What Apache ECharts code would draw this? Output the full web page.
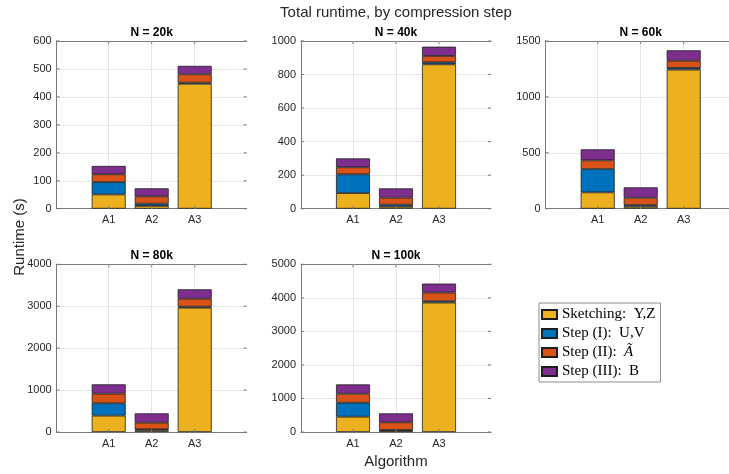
<!DOCTYPE html>
<html><head><meta charset="utf-8">
<script src="https://cdn.jsdelivr.net/npm/echarts@6/dist/echarts.min.js"></script>
<style>html,body{margin:0;padding:0;background:#fff}#c{width:729px;height:474px}</style>
</head><body><div id="c"></div>
<script>
// ---- data ----
const panelTitles = ['N = 20k', 'N = 40k', 'N = 60k', 'N = 80k', 'N = 100k'];
const categories = ['A1', 'A2', 'A3'];
const yMax = [600, 1000, 1500, 4000, 5000];
const yStep = [100, 200, 500, 1000, 1000];
const sketching = [[51, 10, 447], [93, 12, 861], [146, 18, 1244], [390, 40, 2966], [456, 40, 3859]];
const step1 = [[44, 8, 4], [112, 12, 12], [209, 15, 15], [294, 24, 24], [417, 20, 40]];
const step2 = [[28, 26, 30], [42, 42, 38], [78, 65, 65], [231, 159, 191], [268, 228, 258]];
const step3 = [[30, 29, 30], [53, 55, 55], [98, 93, 93], [222, 222, 223], [278, 268, 268]];
const seriesNames = ['Sketching:  Y,Z', 'Step (I):  U,V', 'Step (II):  Ã', 'Step (III):  B'];
const seriesData = [sketching, step1, step2, step3];

// ---- style / layout ----
const colors = ['#EDB120', '#0072BD', '#D95319', '#7E2F8E'];
const lefts = [56.7, 301, 545.7, 56.7, 301];
const tops = [41, 41, 41, 264.3, 264.3];
const W = 190, H = 167.7, band = 43, tickLen = 3;
const innerW = band * categories.length, innerOff = (W - innerW) / 2;
const axisCol = '#7a7a7a', gridCol = '#e6e6e6', textCol = '#262626';
const sans = 'Liberation Sans';

const chart = echarts.init(document.getElementById('c'), null, {renderer: 'canvas'});
const grid = [], xAxis = [], yAxis = [], series = [], graphic = [];
const axisRefs = [];

panelTitles.forEach((t, p) => {
  const gBox = grid.length;
  grid.push({left: lefts[p], top: tops[p], width: W, height: H});
  const gBar = grid.length;
  grid.push({left: lefts[p] + innerOff, top: tops[p], width: innerW, height: H});

  ['bottom', 'top'].forEach(pos => xAxis.push({
    type: 'value', gridIndex: gBox, min: 0, max: 1, position: pos,
    axisLine: {show: true, onZero: false, lineStyle: {color: axisCol, width: 1}},
    axisTick: {show: false}, axisLabel: {show: false}, splitLine: {show: false}
  }));
  const yLeft = yAxis.length;
  yAxis.push({
    type: 'value', gridIndex: gBox, min: 0, max: yMax[p], interval: yStep[p], position: 'left',
    axisLine: {show: true, lineStyle: {color: axisCol, width: 1}},
    axisTick: {show: false},
    axisLabel: {fontSize: 11, color: textCol, fontFamily: sans, margin: 5, formatter: v => String(v)},
    splitLine: {show: true, lineStyle: {color: gridCol, width: 1}}
  });
  yAxis.push({
    type: 'value', gridIndex: gBox, min: 0, max: yMax[p], interval: yStep[p], position: 'right',
    axisLine: {show: true, lineStyle: {color: axisCol, width: 1}},
    axisTick: {show: false}, axisLabel: {show: false}, splitLine: {show: false}
  });

  const xBar = xAxis.length;
  xAxis.push({
    type: 'category', gridIndex: gBar, data: categories, position: 'bottom',
    axisLine: {show: false}, axisTick: {show: false},
    axisLabel: {fontSize: 11, color: textCol, fontFamily: sans, margin: 6},
    splitLine: {show: false}
  });
  const yBar = yAxis.length;
  yAxis.push({
    type: 'value', gridIndex: gBar, min: 0, max: yMax[p], interval: yStep[p],
    show: false, splitLine: {show: false}
  });
  axisRefs.push({yLeft, xBar});

  seriesData.forEach((arr, s) => {
    const ser = {
      type: 'bar', name: seriesNames[s], xAxisIndex: xBar, yAxisIndex: yBar,
      stack: 'p' + p, barWidth: 34, z: 2,
      data: arr[p],
      itemStyle: {color: colors[s], borderColor: '#1e1e1e', borderWidth: 0.8},
      emphasis: {disabled: true}
    };
    if (s === 0) {
      ser.markLine = {
        silent: true, symbol: 'none', z: 1, label: {show: false},
        lineStyle: {color: gridCol, width: 1, type: 'solid'},
        data: categories.map(c => ({xAxis: c}))
      };
    }
    series.push(ser);
  });
  graphic.push({
    type: 'text', x: lefts[p] + W / 2, y: tops[p] - 8.5,
    style: {text: t, align: 'center', verticalAlign: 'middle', font: 'bold 12px "Liberation Sans"', fill: '#000'}
  });
});

graphic.push({type: 'text', x: 396, y: 13,
  style: {text: 'Total runtime, by compression step', align: 'center', verticalAlign: 'middle',
    font: '15px "Liberation Sans"', fill: textCol}});
graphic.push({type: 'text', x: 396, y: 462,
  style: {text: 'Algorithm', align: 'center', verticalAlign: 'middle',
    font: '15px "Liberation Sans"', fill: textCol}});
graphic.push({type: 'text', x: 20, y: 237, rotation: Math.PI / 2,
  style: {text: 'Runtime (s)', align: 'center', verticalAlign: 'middle',
    font: '15px "Liberation Sans"', fill: textCol}});

chart.setOption({
  animation: false,
  backgroundColor: '#fff',
  grid, xAxis, yAxis, series,
  legend: {
    data: seriesNames, orient: 'vertical', left: 539, top: 303,
    itemWidth: 15, itemHeight: 9, itemGap: 4, padding: [4, 5, 3, 2],
    borderColor: '#8c8c8c', borderWidth: 1, icon: 'rect', selectedMode: false,
    formatter: n => n.replace('Ã', '{i|Ã}'),
    textStyle: {fontFamily: 'Liberation Serif', fontSize: 15, color: '#000',
      rich: {i: {fontFamily: 'Liberation Serif', fontSize: 15, fontStyle: 'italic', color: '#000'}}}
  }
});

// inward tick marks on all four sides, placed through the axes' own scales
const tickStyle = {stroke: axisCol, lineWidth: 1};
axisRefs.forEach((r, p) => {
  const L = lefts[p], R = lefts[p] + W, T = tops[p], B = tops[p] + H;
  for (let v = 0; v <= yMax[p]; v += yStep[p]) {
    const y = chart.convertToPixel({yAxisIndex: r.yLeft}, v);
    graphic.push({type: 'line', silent: true, z: 10, shape: {x1: L, y1: y, x2: L + tickLen, y2: y}, style: tickStyle});
    graphic.push({type: 'line', silent: true, z: 10, shape: {x1: R - tickLen, y1: y, x2: R, y2: y}, style: tickStyle});
  }
  categories.forEach(c => {
    const x = chart.convertToPixel({xAxisIndex: r.xBar}, c);
    graphic.push({type: 'line', silent: true, z: 10, shape: {x1: x, y1: B, x2: x, y2: B - tickLen}, style: tickStyle});
    graphic.push({type: 'line', silent: true, z: 10, shape: {x1: x, y1: T, x2: x, y2: T + tickLen}, style: tickStyle});
  });
});
chart.setOption({graphic});
</script>
</body></html>
